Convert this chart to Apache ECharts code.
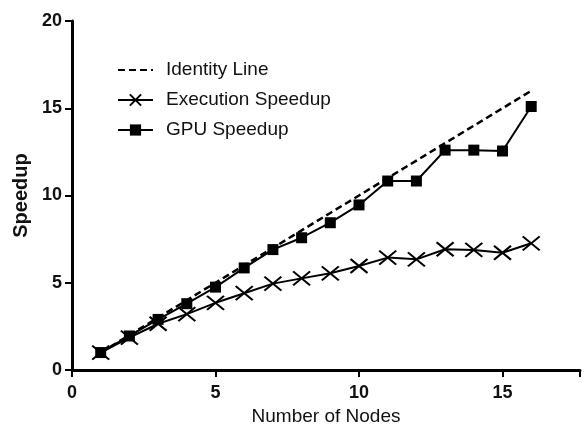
<!DOCTYPE html>
<html>
<head>
<meta charset="utf-8">
<script src="https://cdn.jsdelivr.net/npm/echarts@6/dist/echarts.min.js"></script>
<style>
  html, body { margin: 0; padding: 0; background: #fff; }
  #chart { width: 585px; height: 429px; }
</style>
</head>
<body>
<div id="chart"></div>
<script>
  // values
  var nodes = [1, 2, 3, 4, 5, 6, 7, 8, 9, 10, 11, 12, 13, 14, 15, 16];
  var identityLine = [1, 2, 3, 4, 5, 6, 7, 8, 9, 10, 11, 12, 13, 14, 15, 16];
  var execSpeedup = [1.0, 1.85, 2.65, 3.2, 3.85, 4.4, 4.95, 5.25, 5.54, 5.96, 6.44, 6.34, 6.92, 6.88, 6.72, 7.26];
  var gpuSpeedup = [1.0, 1.95, 2.9, 3.8, 4.75, 5.85, 6.9, 7.58, 8.44, 9.46, 10.83, 10.83, 12.6, 12.6, 12.55, 15.1];
  var xTicks = [0, 5, 10, 15];
  var yTicks = [0, 5, 10, 15, 20];

  function pairs(ys) {
    return nodes.map(function (n, i) { return [n, ys[i]]; });
  }

  var mycharts = echarts.init(document.getElementById('chart'));
  var font = 'Liberation Sans, Arial, sans-serif';

  var option = {
    animation: false,
    backgroundColor: '#fff',
    grid: { left: 72, right: 5, top: 21, bottom: 59, outerBoundsMode: 'none' },
    legend: {
      left: 112, top: 55, orient: 'vertical', itemGap: 10,
      itemWidth: 35, itemHeight: 14,
      textStyle: { fontFamily: font, fontSize: 19, lineHeight: 20, color: '#111', padding: [0, 0, 0, 8] },
      data: [
        { name: 'Identity Line', itemStyle: { opacity: 0 } },
        'Execution Speedup',
        'GPU Speedup'
      ]
    },
    xAxis: {
      type: 'value', min: 0, max: 17.7, interval: 5,
      name: 'Number of Nodes', nameLocation: 'middle', nameGap: 34,
      nameTextStyle: { fontFamily: font, fontSize: 19, color: '#111' },
      axisLine: { lineStyle: { color: '#000', width: 3 } },
      axisTick: { show: true, length: 7, lineStyle: { color: '#000', width: 2 } },
      axisLabel: {
        fontFamily: font, fontSize: 18, fontWeight: 'bold', color: '#111', margin: 14,
        formatter: function (v) { return xTicks.indexOf(v) >= 0 ? String(v) : ''; }
      },
      splitLine: { show: false }
    },
    yAxis: {
      type: 'value', min: 0, max: 20, interval: 5,
      name: 'Speedup', nameLocation: 'middle', nameGap: 40,
      nameTextStyle: { fontFamily: font, fontSize: 20, fontWeight: 'bold', color: '#111' },
      axisLine: { show: true, lineStyle: { color: '#000', width: 3 } },
      axisTick: { show: true, length: 7, lineStyle: { color: '#000', width: 2 } },
      axisLabel: {
        fontFamily: font, fontSize: 18, fontWeight: 'bold', color: '#111', margin: 10,
        formatter: function (v) { return yTicks.indexOf(v) >= 0 ? String(v) : ''; }
      },
      splitLine: { show: false }
    },
    series: [
      {
        name: 'Identity Line', type: 'line', data: pairs(identityLine),
        symbol: 'none', z: 1,
        lineStyle: { color: '#000', width: 2.5, type: [7, 4] },
        itemStyle: { color: '#000' }
      },
      {
        name: 'Execution Speedup', type: 'line', data: pairs(execSpeedup),
        symbol: 'path://M0,0L12,10M12,0L0,10', symbolSize: [17, 14], z: 2,
        lineStyle: { color: '#000', width: 2 },
        itemStyle: { color: 'none', borderColor: '#000', borderWidth: 2 }
      },
      {
        name: 'GPU Speedup', type: 'line', data: pairs(gpuSpeedup),
        symbol: 'rect', symbolSize: 11, z: 3,
        lineStyle: { color: '#000', width: 2 },
        itemStyle: { color: '#000' }
      }
    ]
  };
  mycharts.setOption(option);
</script>
</body>
</html>
